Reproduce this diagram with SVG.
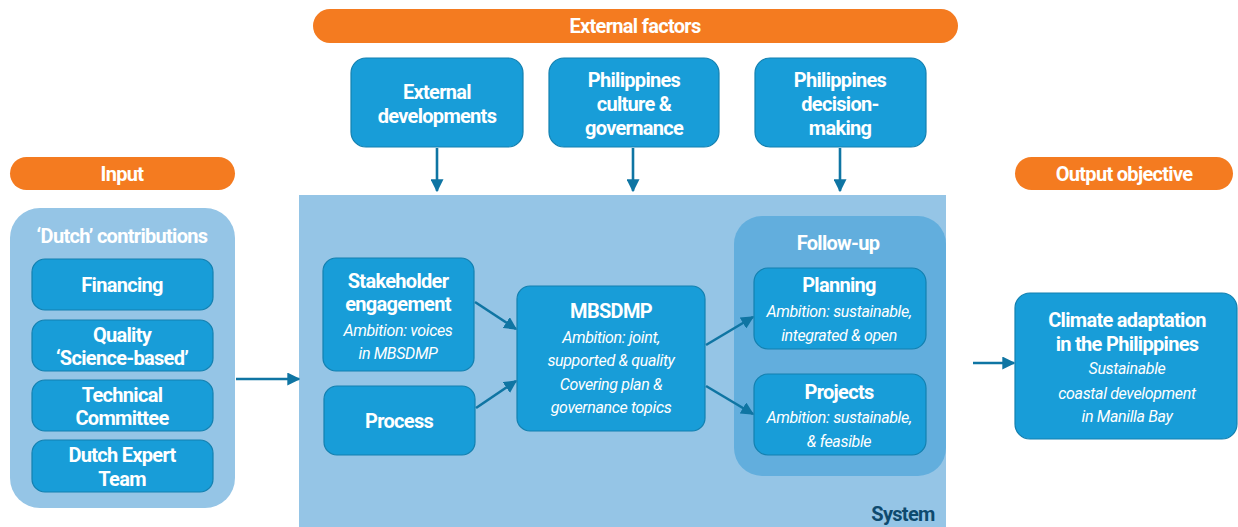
<svg xmlns="http://www.w3.org/2000/svg" width="1238" height="527" viewBox="0 0 1238 527">
<defs>
<style>
.bar{fill:#F47B20}
.box{fill:#189DD8;stroke:#1380B0;stroke-width:1.2}
.pale{fill:#95C5E6}
.mid{fill:#62AEDD}
text{font-family:"Roboto","DejaVu Sans Condensed",sans-serif;fill:#fff;text-anchor:middle}
.b{font-weight:bold;font-size:20px;letter-spacing:-0.7px}
.i{font-style:italic;font-size:16px;letter-spacing:-0.35px}
.con{stroke:#0F75A3;stroke-width:2.6;fill:none;marker-end:url(#ah)}
</style>
<marker id="ah" viewBox="0 0 10 10" refX="9" refY="5" markerWidth="5" markerHeight="5" markerUnits="strokeWidth" orient="auto">
<path d="M0,0 L10,5 L0,10 z" fill="#0F75A3"/>
</marker>
</defs>
<rect width="1238" height="527" fill="#fff"/>

<g id="system">
<rect class="pale" x="299" y="195" width="647" height="332"/>
<text x="903" y="521" class="b" style="fill:#0E4A6E">System</text>
</g>

<g id="external-factors">
<rect class="bar" x="313" y="9" width="645" height="34" rx="17"/>
<text x="635" y="33" class="b">External factors</text>
</g>
<g id="input">
<rect class="bar" x="10" y="157" width="225" height="33" rx="16.5"/>
<text x="122" y="181" class="b">Input</text>
</g>
<g id="output-objective">
<rect class="bar" x="1015" y="157" width="218" height="33" rx="16.5"/>
<text x="1124" y="181" class="b">Output objective</text>
</g>

<g id="external-developments">
<rect class="box" x="351" y="58" width="172" height="89" rx="15"/>
<text x="437" y="99" class="b">External</text>
<text x="437" y="123" class="b">developments</text>
</g>
<g id="philippines-culture">
<rect class="box" x="549" y="58" width="170" height="89" rx="15"/>
<text x="634" y="87" class="b">Philippines</text>
<text x="634" y="111" class="b">culture &amp;</text>
<text x="634" y="135" class="b">governance</text>
</g>
<g id="philippines-decision">
<rect class="box" x="755" y="58" width="171" height="89" rx="15"/>
<text x="840" y="87" class="b">Philippines</text>
<text x="840" y="111" class="b">decision-</text>
<text x="840" y="135" class="b">making</text>
</g>

<g id="dutch-contributions">
<rect class="pale" x="10" y="208" width="225" height="300" rx="30"/>
<text x="122" y="243" class="b">‘Dutch’ contributions</text>
</g>
<g id="financing">
<rect class="box" x="32" y="259" width="181" height="51" rx="13"/>
<text x="122" y="292" class="b">Financing</text>
</g>
<g id="quality">
<rect class="box" x="32" y="320" width="181" height="51" rx="13"/>
<text x="122" y="342" class="b">Quality</text>
<text x="122" y="365" class="b">‘Science-based’</text>
</g>
<g id="technical-committee">
<rect class="box" x="32" y="380" width="181" height="51" rx="13"/>
<text x="122" y="402" class="b">Technical</text>
<text x="122" y="425" class="b">Committee</text>
</g>
<g id="dutch-expert-team">
<rect class="box" x="32" y="440" width="181" height="52" rx="13"/>
<text x="122" y="462" class="b">Dutch Expert</text>
<text x="122" y="486" class="b">Team</text>
</g>

<g id="stakeholder-engagement">
<rect class="box" x="323" y="258" width="151" height="113" rx="13"/>
<text x="398" y="288" class="b">Stakeholder</text>
<text x="398" y="311" class="b">engagement</text>
<text x="398" y="336" class="i">Ambition: voices</text>
<text x="398" y="359" class="i">in MBSDMP</text>
</g>
<g id="process">
<rect class="box" x="324" y="386" width="151" height="69" rx="13"/>
<text x="399" y="428" class="b">Process</text>
</g>
<g id="mbsdmp">
<rect class="box" x="517" y="286" width="188" height="145" rx="13"/>
<text x="611" y="318" class="b">MBSDMP</text>
<text x="611" y="343" class="i">Ambition: joint,</text>
<text x="611" y="366" class="i">supported &amp; quality</text>
<text x="611" y="390" class="i">Covering plan &amp;</text>
<text x="611" y="413" class="i">governance topics</text>
</g>

<g id="follow-up">
<rect class="mid" x="734" y="216" width="212" height="260" rx="28"/>
<text x="838" y="250" class="b">Follow-up</text>
</g>
<g id="planning">
<rect class="box" x="754" y="268" width="172" height="81" rx="14"/>
<text x="839" y="292" class="b">Planning</text>
<text x="839" y="317" class="i">Ambition: sustainable,</text>
<text x="839" y="341" class="i">integrated &amp; open</text>
</g>
<g id="projects">
<rect class="box" x="754" y="374" width="172" height="81" rx="14"/>
<text x="839" y="399" class="b">Projects</text>
<text x="839" y="423" class="i">Ambition: sustainable,</text>
<text x="839" y="447" class="i">&amp; feasible</text>
</g>

<g id="climate-adaptation">
<rect class="box" x="1015" y="293" width="222" height="146" rx="15"/>
<text x="1127" y="327" class="b">Climate adaptation</text>
<text x="1127" y="351" class="b">in the Philippines</text>
<text x="1127" y="374" class="i">Sustainable</text>
<text x="1127" y="399" class="i">coastal development</text>
<text x="1127" y="422" class="i">in Manilla Bay</text>
</g>

<g id="connectors">
<line class="con" x1="437" y1="148" x2="437" y2="191"/>
<line class="con" x1="633" y1="148" x2="633" y2="191"/>
<line class="con" x1="840" y1="148" x2="840" y2="191"/>
<line class="con" x1="236" y1="379" x2="299" y2="379"/>
<line class="con" x1="475" y1="302" x2="516" y2="329"/>
<line class="con" x1="476" y1="408" x2="516" y2="381"/>
<line class="con" x1="706" y1="345" x2="753" y2="317"/>
<line class="con" x1="706" y1="386" x2="753" y2="414"/>
<line class="con" x1="973" y1="363" x2="1014" y2="363"/>
</g>
</svg>
